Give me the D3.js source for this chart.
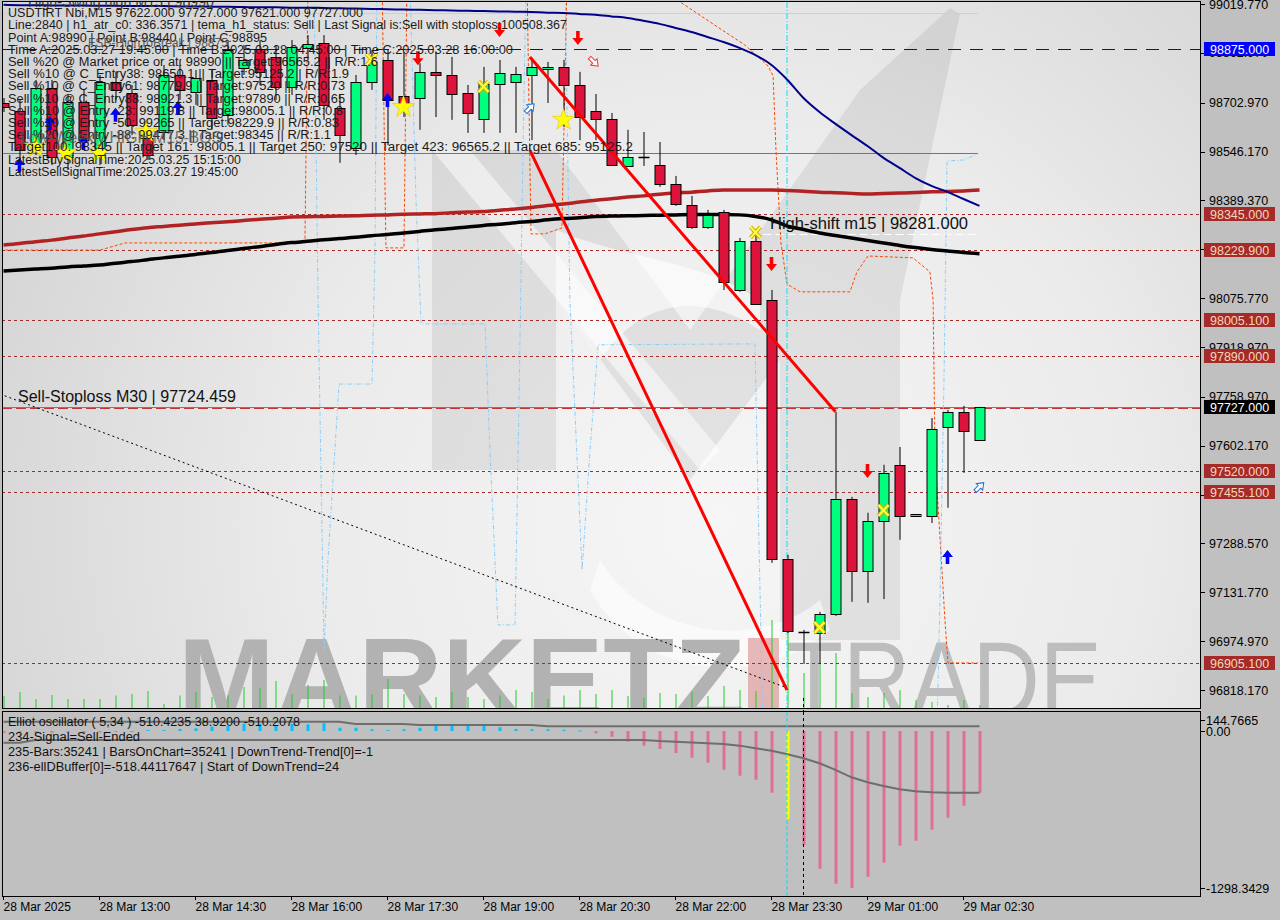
<!DOCTYPE html>
<html><head><meta charset="utf-8">
<script src="https://cdn.jsdelivr.net/npm/d3@7/dist/d3.min.js"></script>
<style>html,body{margin:0;padding:0;background:#c0c0c0;}svg{display:block;}</style>
</head><body>
<svg id="chart" width="1280" height="920"></svg>
<script>
// ================= DATA =================
const timeLabels = ["28 Mar 2025","28 Mar 13:00","28 Mar 14:30","28 Mar 16:00","28 Mar 17:30","28 Mar 19:00","28 Mar 20:30","28 Mar 22:00","28 Mar 23:30","29 Mar 01:00","29 Mar 02:30"];
const timeLabelBars = [0,6,12,18,24,30,36,42,48,54,60];

const opens  = [98702,98676,98561,98750,98529,98705,98529,98769,98734,98590,98609,98792,98737,98776,98664,98814,98875,98850,98753,98879,98895,98686,98558,98769,98840,98725,98718,98802,98792,98734,98651,98763,98769,98792,98811,98818,98760,98676,98651,98500,98530,98503,98442,98375,98304,98352,98102,98259,98070,97239,97003,97001,97062,97431,97200,97361,97541,97377,97377,97662,97711,97622];
const highs  = [98718,98712,98776,98776,98728,98744,98792,98802,98760,98616,98824,98840,98808,98808,98904,98888,98904,98888,98904,98920,98920,98728,98792,98872,98872,98866,98830,98866,98850,98760,98818,98840,98818,98840,98834,98840,98802,98731,98670,98616,98609,98577,98468,98404,98359,98359,98269,98298,98102,97252,97011,97069,97711,97438,97387,97541,97598,97383,97691,97717,97730,97727];
const lows   = [98673,98519,98535,98503,98487,98551,98503,98712,98599,98519,98583,98712,98696,98616,98632,98792,98760,98712,98728,98840,98648,98510,98535,98744,98567,98657,98616,98657,98648,98606,98606,98606,98606,98583,98702,98625,98583,98583,98500,98497,98500,98433,98372,98298,98298,98102,98096,98054,97226,97001,96902,96902,97056,97101,97098,97110,97300,97377,97354,97403,97515,97621];
const closes = [98689,98551,98750,98529,98705,98583,98769,98744,98632,98535,98792,98744,98782,98654,98872,98840,98802,98753,98882,98891,98696,98599,98769,98834,98712,98699,98802,98792,98731,98670,98763,98798,98795,98818,98818,98760,98657,98651,98503,98529,98530,98442,98378,98304,98343,98128,98259,98057,97239,97008,97003,97062,97431,97200,97361,97515,97377,97383,97656,97711,97650,97727];
const volumes = [120,160,90,130,90,90,90,125,140,170,40,125,160,110,125,210,200,270,140,230,280,125,125,140,290,140,125,110,160,110,90,125,180,160,90,125,180,140,180,120,100,150,140,160,120,220,180,170,880,840,350,450,550,150,110,150,180,80,60,30,80,30];

const maBlue  = [99017,99016,99016,99015,99015,99015,99014,99014,99013,99013,99013,99012,99012,99011,99011,99010,99009,99009,99008,99008,99007,99006,99005,99004,99003,99002,99001,99000,98999,98998,98997,98996,98995,98994,98992,98991,98988,98985,98980,98975,98966,98956,98943,98930,98914,98898,98879,98856,98824,98776,98718,98673,98635,98599,98564,98526,98494,98461,98436,98417,98394,98372];
const maBrown = [98246,98251,98257,98262,98269,98275,98282,98289,98296,98302,98306,98310,98314,98318,98321,98325,98329,98332,98336,98337,98338,98339,98340,98342,98343,98345,98346,98347,98350,98352,98354,98358,98362,98367,98373,98378,98384,98390,98395,98400,98404,98409,98413,98416,98420,98423,98423,98423,98423,98421,98419,98416,98414,98412,98410,98412,98413,98415,98417,98418,98420,98423];
const maBlack = [98163,98166,98169,98172,98176,98179,98182,98188,98193,98199,98205,98210,98216,98222,98229,98235,98241,98248,98254,98258,98263,98267,98271,98276,98280,98285,98290,98295,98299,98304,98309,98313,98318,98322,98327,98331,98334,98338,98339,98340,98341,98342,98343,98344,98344,98344,98343,98338,98327,98307,98296,98285,98277,98269,98261,98253,98245,98238,98232,98227,98222,98218];

const aoValues = [-15,-15,-18,-15,-12,-15,-12,-8,-3,8,8,17,22,36,41,58,58,50,58,55,64,27,27,14,8,14,27,44,44,44,44,31,17,14,14,10,5,-19,-47,-88,-122,-149,-182,-221,-262,-320,-370,-403,-510,-729,-943,-1139,-1263,-1298.34,-1205,-1089,-948,-907,-816,-717,-618,-510.42];
const aoHighlightBar = 49;
const aoSignal = [-97,-97,-75,-75,-75,-75,-75,-75,-75,-75,-75,-75,-75,-75,-75,-75,-75,-75,-75,-75,-75,-75,-75,-75,-75,-75,-75,-75,-75,-75,-75,-75,-75,-75,-75,-75,-75,-75,-75,-74,-74,-83,-88,-95,-102,-108,-121,-143,-163,-193,-226,-267,-322,-383,-424,-455,-482,-498,-506,-510,-510,-510.21];
const aoUpper = [77,77,77,77,77,77,77,77,77,77,77,77,77,77,77,77,77,77,77,77,77,77,58,58,58,58,50,50,50,50,50,50,50,50,38.92,38.92,38.92,38.92,38.92,38.92,38.92,38.92,38.92,38.92,38.92,38.92,38.92,38.92,38.92,38.92,38.92,38.92,38.92,38.92,38.92,38.92,38.92,38.92,38.92,38.92,38.92,38.92];
const oscTicks = [144.7665, 0, -1298.3429];

const priceTicks = [99019.77,98862.97,98702.97,98546.17,98389.37,98232.57,98075.77,97918.97,97758.97,97602.17,97445.37,97288.57,97131.77,96974.97,96818.17];
const redLevels = [98345,98229.9,98005.1,97890,97520,97455.1,96905.1];
const blueLevel = 98875;
const lastPrice = 97727;
const stopLossLevel = 97724.459;
const swingHighLevel = 98990;
const targetLineLevel = 98542;
const highShiftLevel = 98281;

// [bar index, price]
const trendLines = [[[32.9,98850],[52,97711]],[[32.9,98551],[48.97,96818]]];
const dottedLine = [[-0.22,97768],[48.97,96825]];
const orangeSteps = [[-0.2,98230],[6.03,98230],[7.6,98253],[18.84,98253],[19.03,99097],[23.66,99097],[23.9,98237],[25.03,98237],[25.22,99097],[32.72,99097],[32.97,98282],[33.84,98282],[34.9,98301],[35.22,99097],[41.03,99097],[42.1,99033],[44.16,98962],[46.34,98888],[47.78,98821],[48.1,98789],[48.28,98551],[48.59,98253],[48.97,98121],[49.78,98096],[52.9,98096],[53.34,98160],[54.03,98211],[56.84,98205],[57.9,98160],[58.1,98070],[58.22,97573],[58.84,97043],[59.03,96905],[60.9,96905]];
const blueSteps = [[19.4,99097],[19.66,98070],[20.03,96947],[20.28,97236],[20.97,97800],[23.03,97800],[23.22,98230],[23.34,99097],[25.4,99097],[25.78,98391],[26.1,97993],[30.1,97993],[30.4,97589],[30.9,97027],[31.97,97027],[32.22,97749],[32.47,98551],[32.66,99097],[35.1,99097],[35.4,98070],[36.16,97204],[36.66,97589],[37.16,97926],[46.97,97929],[47.16,97428],[47.47,96690],[58.34,96690],[58.53,97108],[58.78,97813],[58.97,98516],[59.97,98519],[60.9,98538]];
const signalBar = 48.97;
const cursorBar = 50;

const sellArrows = [[25.9,98846],[31,98936],[35.9,98911],[48,98185],[54,97521]];
const buyArrows = [[1,98503],[2.9,98638],[5,98574],[7,98664],[10.9,98686],[24,98712],[59,97245]];
const hollowSell = [[36.9,98834]];
const hollowBuy = [[32.9,98686],[61,97470]];
const stars = [[2,98561],[3.9,98542],[6,98542],[8.9,98609],[25,98689],[35,98648]];
const crosses = [[23,98840],[30,98753],[47,98285],[51,97017],[55,97393]];

const infoLines = [
 "USDTIRT Nbi,M15  97622.000 97727.000 97621.000 97727.000",
 "Line:2840 | h1_atr_c0: 336.3571 | tema_h1_status: Sell | Last Signal is:Sell with stoploss:100508.367",
 "Point A:98990 | Point B:98440 | Point C:98895",
 "Time A:2025.03.27 19:45:00 | Time B:2025.03.28 04:45:00 | Time C:2025.03.28 16:00:00",
 "Sell %20 @ Market price or at: 98990 || Target:96565.2 || R/R:1.6",
 "Sell %10 @ C_Entry38: 98650.1 || Target:95125.2 | R/R:1.9",
 "Sell %10 @ C_Entry61: 98779.9 || Target:97520 || R/R:0.73",
 "Sell %10 @ C_Entry88: 98921.3 || Target:97890 || R/R:0.65",
 "Sell %10 @ Entry -23: 99119.8 || Target:98005.1 || R/R:0.8",
 "Sell %20 @ Entry -50: 99265 || Target:98229.9 || R/R:0.83",
 "Sell %20 @ Entry -88: 99477.3 || Target:98345 || R/R:1.1",
 "Target100: 98345 || Target 161: 98005.1 || Target 250: 97520 || Target 423: 96565.2 || Target 685: 95125.2",
 "LatestBuySignalTime:2025.03.25 15:15:00",
 "LatestSellSignalTime:2025.03.27 19:45:00"];
const oscLines = [
 "Elliot oscillator ( 5,34 ) -510.4235 38.9200 -510.2078",
 "234-Signal=Sell-Ended",
 "235-Bars:35241 | BarsOnChart=35241 | DownTrend-Trend[0]=-1",
 "236-ellDBuffer[0]=-518.44117647 | Start of DownTrend=24"];
const swingText = "High-Swing high  M15 | 98990";
const fsbText = "FSB-HighToBreak | 98875";
const bosText = "Low-Weekly HIGH M15-BOS";
const stopText = "Sell-Stoploss M30 | 97724.459";
const shiftText = "High-shift m15 | 98281.000";

// ================= LAYOUT =================
const infoWidths = [355,559,259,505,370,341,337,337,335,331,323,625,233,230];
const oscWidths = [292,132,365,331];
const main = {l:2, r:1201, t:2, b:708};
const osc = {t:712, b:896};
const FONT = "'Liberation Sans', Arial, sans-serif";

const svg = d3.select("#chart");
const defs = svg.append("defs");

const x = d3.scaleLinear().domain([0, 61]).range([3.5, 979.5]);
const y = d3.scaleLinear().domain([96818.17, 99019.77]).range([690, 4]);
const yo = d3.scaleLinear().domain([-1298.3429, 0]).range([888, 731]);
const yv = d3.scaleLinear().domain([0, 1000]).range([main.b, main.b - 100]);

svg.append("rect").attr("width",1280).attr("height",920).attr("fill","#c0c0c0");

const rg = defs.append("radialGradient").attr("id","bgGrad").attr("gradientUnits","userSpaceOnUse")
  .attr("cx",720).attr("cy",520).attr("r",760);
rg.append("stop").attr("offset","0").attr("stop-color","#f6f6f6");
rg.append("stop").attr("offset","0.55").attr("stop-color","#ebebeb");
rg.append("stop").attr("offset","1").attr("stop-color","#d6d6d6");

defs.append("clipPath").attr("id","clipMain").append("rect")
  .attr("x",main.l).attr("y",main.t).attr("width",main.r-main.l).attr("height",main.b-main.t);
defs.append("clipPath").attr("id","clipOsc").append("rect")
  .attr("x",main.l).attr("y",osc.t).attr("width",main.r-main.l).attr("height",osc.b-osc.t);

const g = svg.append("g").attr("clip-path","url(#clipMain)");
g.append("rect").attr("x",main.l).attr("y",main.t).attr("width",main.r-main.l).attr("height",main.b-main.t).attr("fill","url(#bgGrad)");

// watermark logo (decorative)
const logo = g.append("g");
logo.append("path").attr("d","M432,470 L432,150 L556,150 L690,330 L860,90 L950,8 L960,14 L900,300 L900,640 L780,640 L780,360 L690,480 L556,300 L556,470 Z")
  .attr("fill","#000").attr("opacity",0.07);
logo.append("path").attr("d","M556,300 L600,360 C640,300 700,290 760,330 L760,300 C700,260 630,260 556,230 Z")
  .attr("fill","#fff").attr("opacity",0.6);
logo.append("path").attr("d","M432,150 L470,150 L720,450 L700,470 Z").attr("fill","#fff").attr("opacity",0.5);
logo.append("path").attr("d","M600,560 C650,640 760,650 820,600 L830,630 C760,690 640,680 590,590 Z").attr("fill","#fff").attr("opacity",0.55);

logo.append("text").attr("x",178).attr("y",720).attr("font-family",FONT).attr("font-weight","bold")
  .attr("font-size",116).attr("fill","#b2b2b2").attr("textLength",567).attr("lengthAdjust","spacingAndGlyphs").text("MARKETZ");
logo.append("rect").attr("x",748).attr("y",638).attr("width",31).attr("height",80).attr("fill","#d88c8c").attr("opacity",0.6);
logo.append("text").attr("x",786).attr("y",718).attr("font-family",FONT)
  .attr("font-size",110).attr("fill","#bdbdbd").attr("textLength",316).attr("lengthAdjust","spacingAndGlyphs").text("TRADE");

// volume bars
g.append("g").selectAll("line").data(volumes).join("line")
  .attr("x1",(d,i)=>x(i)+0.5).attr("x2",(d,i)=>x(i)+0.5)
  .attr("y1",yv(0)).attr("y2",d=>yv(d)).attr("stroke","#22cc22").attr("stroke-width",1);

// horizontal levels
const hline = (p, color, dash, w, x1 = main.l, x2 = main.r) =>
  g.append("line").attr("x1",x1).attr("x2",x2).attr("y1",Math.round(y(p))+0.5).attr("y2",Math.round(y(p))+0.5)
   .attr("stroke",color).attr("stroke-width",w||1).attr("stroke-dasharray",dash||null);
redLevels.forEach(p => hline(p, "#a52a2a", "3,3", 1));
hline(blueLevel, "#0000ff", "13,9", 1);
hline(stopLossLevel, "#c83232", "10,4", 1);
hline(lastPrice, "#7a7a8a", null, 1);
hline(targetLineLevel, "#ff4500", null, 1, main.l, x(60.9));
hline(swingHighLevel, "#adff2f", null, 1, main.l, x(60.9));
hline(highShiftLevel, "#ffffff", "8,4", 1, x(47.5), x(61));

// step lines
const pline = d3.line().x(d=>x(d[0])).y(d=>y(d[1]));
g.append("path").attr("d",pline(orangeSteps)).attr("fill","none").attr("stroke","#ff4500").attr("stroke-width",1).attr("stroke-dasharray","3,2");
g.append("path").attr("d",pline(blueSteps)).attr("fill","none").attr("stroke","#87cefa").attr("stroke-width",1).attr("stroke-dasharray","4,2,1,2");

g.append("line").attr("x1",x(signalBar)).attr("x2",x(signalBar)).attr("y1",main.t).attr("y2",main.b)
  .attr("stroke","#00e5ff").attr("stroke-width",1).attr("stroke-dasharray","6,2,1,2");

g.append("path").attr("d",pline(dottedLine)).attr("fill","none").attr("stroke","#000").attr("stroke-width",1).attr("stroke-dasharray","2,3");

// moving averages
const maLine = d3.line().x((d,i)=>x(i)).y(d=>y(d)).curve(d3.curveMonotoneX);
g.append("path").attr("d",maLine(maBrown)).attr("fill","none").attr("stroke","#b22222").attr("stroke-width",3.5);
g.append("path").attr("d",maLine(maBlack)).attr("fill","none").attr("stroke","#000").attr("stroke-width",3.5);
g.append("path").attr("d",maLine(maBlue)).attr("fill","none").attr("stroke","#00008b").attr("stroke-width",2);

// candles
const candles = opens.map((o,i)=>({i,o,h:highs[i],l:lows[i],c:closes[i]}));
const cg = g.append("g");
cg.selectAll("line.wick").data(candles).join("line").attr("class","wick")
  .attr("x1",d=>x(d.i)+0.5).attr("x2",d=>x(d.i)+0.5).attr("y1",d=>y(d.h)).attr("y2",d=>y(d.l))
  .attr("stroke","#000").attr("stroke-width",1);
cg.selectAll("rect.body").data(candles.filter(d=>d.o!==d.c)).join("rect").attr("class","body")
  .attr("x",d=>x(d.i)-4.5).attr("width",10)
  .attr("y",d=>Math.round(y(Math.max(d.o,d.c)))+0.5)
  .attr("height",d=>Math.max(1,Math.round(Math.abs(y(d.o)-y(d.c)))))
  .attr("fill",d=>d.c>d.o?"#00ff7f":"#dc143c").attr("stroke","#000").attr("stroke-width",1);
cg.selectAll("line.doji").data(candles.filter(d=>d.o===d.c)).join("line").attr("class","doji")
  .attr("x1",d=>x(d.i)-5).attr("x2",d=>x(d.i)+6).attr("y1",d=>Math.round(y(d.o))+0.5).attr("y2",d=>Math.round(y(d.o))+0.5)
  .attr("stroke","#000").attr("stroke-width",1.5);

trendLines.forEach(t=> g.append("path").attr("d",pline(t)).attr("fill","none").attr("stroke","#ff0000").attr("stroke-width",3));

// markers
const mk = g.append("g");
sellArrows.forEach(([i,p])=>{
  mk.append("path").attr("transform",`translate(${x(i)},${y(p)})`)
    .attr("d","M-1.8,-7 L1.8,-7 L1.8,0 L5.5,0 L0,7 L-5.5,0 L-1.8,0 Z").attr("fill","#ff0000");
});
buyArrows.forEach(([i,p])=>{
  mk.append("path").attr("transform",`translate(${x(i)},${y(p)})`)
    .attr("d","M-1.8,7 L1.8,7 L1.8,0 L5.5,0 L0,-7 L-5.5,0 L-1.8,0 Z").attr("fill","#0000ff");
});
hollowSell.forEach(([i,p])=>{
  mk.append("path").attr("transform",`translate(${x(i)},${y(p)}) rotate(-45)`)
    .attr("d","M-1.8,-6 L1.8,-6 L1.8,0 L4.5,0 L0,6 L-4.5,0 L-1.8,0 Z").attr("fill","#fff").attr("stroke","#ff3030").attr("stroke-width",1);
});
hollowBuy.forEach(([i,p])=>{
  mk.append("path").attr("transform",`translate(${x(i)},${y(p)}) rotate(45)`)
    .attr("d","M-1.8,6 L1.8,6 L1.8,0 L4.5,0 L0,-6 L-4.5,0 L-1.8,0 Z").attr("fill","#fff").attr("stroke","#1e6fd0").attr("stroke-width",1);
});
const starPath = d3.symbol().type(d3.symbolStar).size(150);
stars.forEach(([i,p])=>{
  mk.append("path").attr("transform",`translate(${x(i)},${y(p)})`).attr("d",starPath()).attr("fill","#ffff00").attr("stroke","#e6c200").attr("stroke-width",0.6);
});
crosses.forEach(([i,p])=>{
  const cx = x(i), cy = y(p);
  mk.append("path").attr("d",`M${cx-5},${cy-6} L${cx+5},${cy+5} M${cx+5},${cy-6} L${cx-5},${cy+5}`)
    .attr("stroke","#d4b000").attr("stroke-width",4).attr("fill","none");
  mk.append("path").attr("d",`M${cx-5},${cy-6} L${cx+5},${cy+5} M${cx+5},${cy-6} L${cx-5},${cy+5}`)
    .attr("stroke","#ffff40").attr("stroke-width",2).attr("fill","none");
});

// texts in main panel
const tg = g.append("g").attr("font-family",FONT);
tg.append("text").attr("x",28).attr("y",y(swingHighLevel)-6).attr("font-size",16).attr("fill","#333")
  .attr("textLength",186).attr("lengthAdjust","spacingAndGlyphs").text(swingText);
infoLines.forEach((s,k)=>{
  tg.append("text").attr("x",8).attr("y",17.2 + k*12.2).attr("font-size",12).attr("fill","#1a1a1a")
    .attr("textLength",infoWidths[k]).attr("lengthAdjust","spacingAndGlyphs").text(s);
});
tg.append("text").attr("x",88).attr("y",47).attr("font-size",13).attr("fill","#444").attr("opacity",0.85)
  .attr("textLength",140).attr("lengthAdjust","spacingAndGlyphs").text(fsbText);
tg.append("text").attr("x",20).attr("y",143).attr("font-size",16).attr("fill","#555").attr("opacity",0.8)
  .attr("textLength",202).attr("lengthAdjust","spacingAndGlyphs").text(bosText);
tg.append("text").attr("x",18).attr("y",y(stopLossLevel)-6).attr("font-size",16).attr("fill","#111")
  .attr("textLength",218).attr("lengthAdjust","spacingAndGlyphs").text(stopText);
tg.append("text").attr("x",770).attr("y",y(highShiftLevel)-5).attr("font-size",16).attr("fill","#111")
  .attr("textLength",198).attr("lengthAdjust","spacingAndGlyphs").text(shiftText);

svg.append("rect").attr("x",main.l+0.5).attr("y",1.5).attr("width",main.r-main.l-1).attr("height",main.b-1).attr("fill","none").attr("stroke","#000");

// ================= OSCILLATOR =================
const og = svg.append("g").attr("clip-path","url(#clipOsc)");
og.append("rect").attr("x",main.l).attr("y",osc.t).attr("width",main.r-main.l).attr("height",osc.b-osc.t).attr("fill","#c0c0c0");
og.selectAll("rect.ao").data(aoValues).join("rect").attr("class","ao")
  .attr("x",(d,i)=>x(i)-1).attr("width",3)
  .attr("y",d=>Math.min(yo(0),yo(d))).attr("height",d=>Math.max(1,Math.abs(yo(d)-yo(0))))
  .attr("fill",(d,i)=> i===aoHighlightBar ? "#ffff00" : (d>=0 ? "#00bfff" : "#e0708f"));
const oLine = d3.line().x((d,i)=>x(i)).y(d=>yo(d));
og.append("path").attr("d",oLine(aoUpper)).attr("fill","none").attr("stroke","#6e6e6e").attr("stroke-width",2);
og.append("path").attr("d",oLine(aoSignal)).attr("fill","none").attr("stroke","#6e6e6e").attr("stroke-width",2);
og.append("line").attr("x1",x(signalBar)).attr("x2",x(signalBar)).attr("y1",osc.t).attr("y2",osc.b)
  .attr("stroke","#00e5ff").attr("stroke-dasharray","4,2");
og.append("line").attr("x1",x(cursorBar)).attr("x2",x(cursorBar)).attr("y1",osc.t).attr("y2",osc.b)
  .attr("stroke","#000").attr("stroke-dasharray","3,3");
oscLines.forEach((s,k)=>{
  og.append("text").attr("x",8).attr("y",726+k*15).attr("font-family",FONT).attr("font-size",12).attr("fill","#111")
    .attr("textLength",oscWidths[k]).attr("lengthAdjust","spacingAndGlyphs").text(s);
});
svg.append("line").attr("x1",x(cursorBar)).attr("x2",x(cursorBar)).attr("y1",main.b-10).attr("y2",osc.t)
  .attr("stroke","#000").attr("stroke-dasharray","3,3");
svg.append("rect").attr("x",main.l+0.5).attr("y",osc.t-0.5).attr("width",main.r-main.l-1).attr("height",osc.b-osc.t+1).attr("fill","none").attr("stroke","#000");

// ================= AXES =================
const ax = svg.append("g").attr("font-family",FONT).attr("font-size",12.5).attr("fill","#000");
priceTicks.forEach(p=>{
  ax.append("line").attr("x1",main.r).attr("x2",main.r+4).attr("y1",Math.round(y(p))+0.5).attr("y2",Math.round(y(p))+0.5).attr("stroke","#000");
  ax.append("text").attr("x",1209).attr("y",y(p)).attr("dy","0.36em").text(p.toFixed(3));
});
const box = (p, bg, fg) => {
  const yy = Math.round(y(p));
  ax.append("rect").attr("x",1204).attr("y",yy-7).attr("width",71).attr("height",14).attr("fill",bg);
  ax.append("text").attr("x",1210).attr("y",yy).attr("dy","0.36em").attr("fill",fg).text(p.toFixed(3));
};
box(blueLevel, "#0000ff", "#ffffff");
redLevels.forEach(p=>box(p, "#a52a2a", "#f5d7b8"));
box(lastPrice, "#000000", "#ffffff");

oscTicks.forEach((v,k)=>{
  const yy = Math.min(Math.max(yo(v), osc.t+8), osc.b-8);
  ax.append("line").attr("x1",main.r).attr("x2",main.r+4).attr("y1",Math.round(yy)+0.5).attr("y2",Math.round(yy)+0.5).attr("stroke","#000");
  ax.append("text").attr("x",1206).attr("y",yy).attr("dy","0.36em").text(v===0 ? "0.00" : v.toFixed(4));
});

timeLabelBars.forEach((b,k)=>{
  ax.append("line").attr("x1",x(b)).attr("x2",x(b)).attr("y1",osc.b).attr("y2",osc.b+4).attr("stroke","#000");
  ax.append("text").attr("x",x(b)).attr("y",907).attr("dy","0.36em").attr("font-size",12).text(timeLabels[k]);
});
</script>
</body></html>
